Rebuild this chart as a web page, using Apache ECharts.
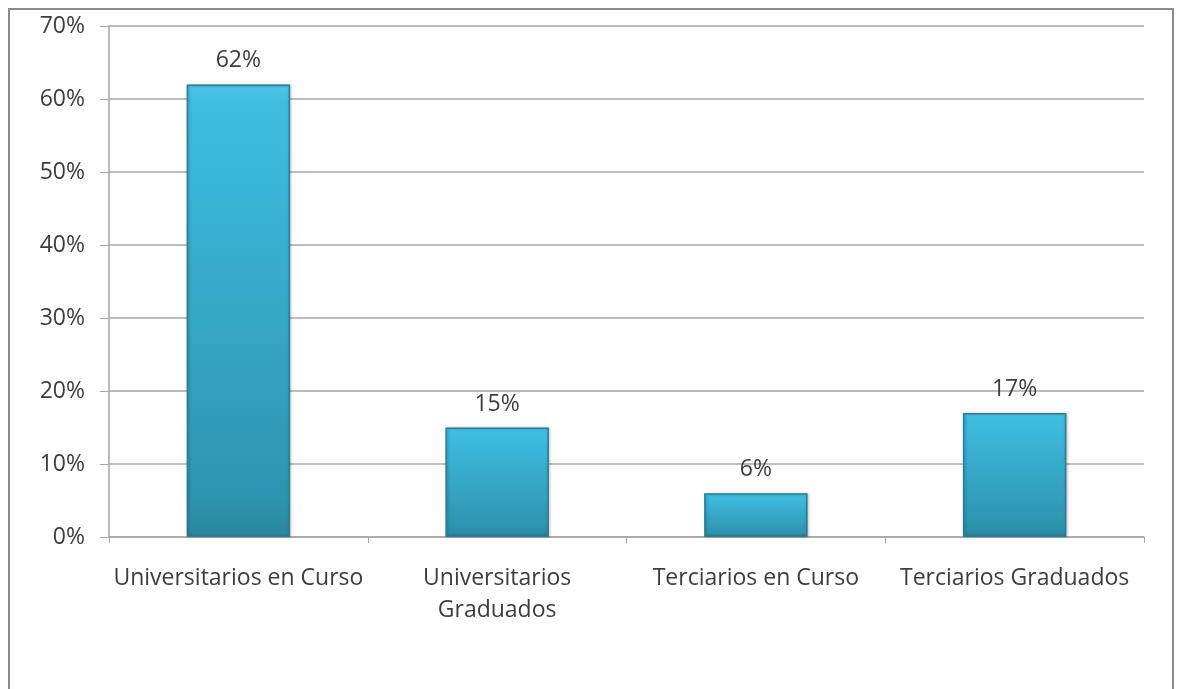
<!DOCTYPE html>
<html>
<head>
<meta charset="utf-8">
<script src="https://cdn.jsdelivr.net/npm/echarts@6/dist/echarts.min.js"></script>
<style>
  html, body { margin: 0; padding: 0; background: #fff; }
  #frame {
    position: absolute; left: 8px; top: 8px; width: 1166px; height: 700px;
    border: 2px solid #8c8c8c; border-bottom: none; box-sizing: border-box;
  }
  #chart { position: absolute; left: 0; top: 0; width: 1177px; height: 689px; }
</style>
</head>
<body>
<div id="frame"></div>
<div id="chart"></div>
<script>
const categories = ['Universitarios en Curso', 'Universitarios\nGraduados', 'Terciarios en Curso', 'Terciarios Graduados']
const shares = [62, 15, 6, 17]
const yTicks = [0, 10, 20, 30, 40, 50, 60, 70]

const chart = echarts.init(document.getElementById('chart'))
chart.setOption({
    animation: false,
    grid: { left: 109, right: 33, top: 26, bottom: 152 },
    xAxis: {
        type: 'category',
        data: categories,
        axisLine: { lineStyle: { color: '#a6a6a6', width: 1.5 } },
        axisTick: { show: true, length: 6, lineStyle: { color: '#a6a6a6' } },
        axisLabel: {
            color: '#3d3d3d', fontFamily: 'Open Sans', fontSize: 23,
            margin: 25, lineHeight: 32, interval: 0
        }
    },
    yAxis: {
        type: 'value',
        min: yTicks[0],
        max: yTicks[yTicks.length - 1],
        interval: 10,
        axisLine: { show: true, lineStyle: { color: '#a6a6a6', width: 1.5 } },
        axisTick: { show: true, length: 9, lineStyle: { color: '#a6a6a6' } },
        splitLine: { lineStyle: { color: '#a6a6a6', width: 1.5 } },
        axisLabel: {
            color: '#3d3d3d', fontFamily: 'Open Sans', fontSize: 23, margin: 24,
            formatter: v => v + '%'
        }
    },
    series: [{
        type: 'bar',
        data: shares,
        barWidth: '40%',
        itemStyle: {
            color: new echarts.graphic.LinearGradient(0, 0, 0, 1, [
                { offset: 0, color: '#4cc8e8' },
                { offset: 0.04, color: '#3ebde2' },
                { offset: 0.9, color: '#2e95b0' },
                { offset: 1, color: '#2a87a0' }
            ]),
            borderColor: '#2a7d94',
            borderWidth: 1.5,
            shadowColor: 'rgba(0,0,0,0.25)',
            shadowBlur: 3,
            shadowOffsetX: 1
        },
        label: {
            show: true, position: 'top', distance: 12,
            color: '#3d3d3d', fontFamily: 'Open Sans', fontSize: 23,
            formatter: p => p.value + '%'
        }
    }]
})
</script>
</body>
</html>
